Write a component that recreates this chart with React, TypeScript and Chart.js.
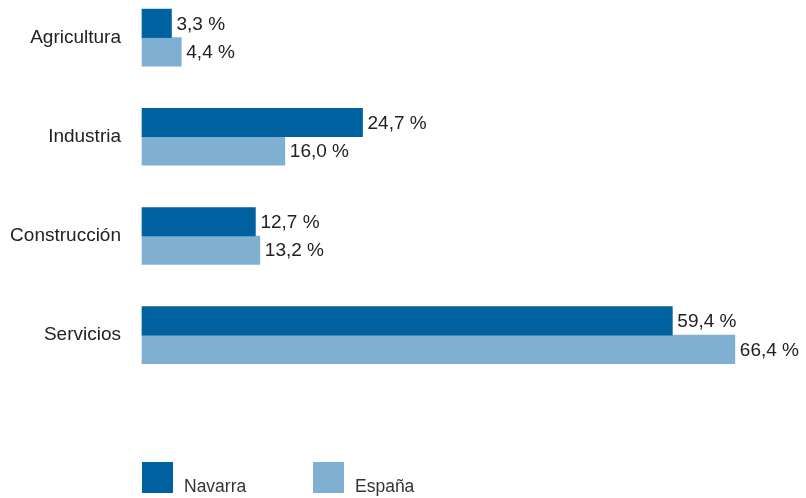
import React, { useEffect, useRef } from "react";
import { Chart, registerables } from "chart.js";

Chart.register(...registerables);

const categories = ["Agricultura", "Industria", "Construcción", "Servicios"];
const navarra = [3.3, 24.7, 12.7, 59.4];
const espana = [4.4, 16.0, 13.2, 66.4];
const seriesNames = ["Navarra", "España"];
const colors = ["#0061a0", "#7fb0d2"];

const FONT = "'Liberation Sans', Arial, Helvetica, sans-serif";

const fmt = (v: number) => v.toFixed(1).replace(".", ",") + " %";

const valueLabels = {
  id: "valueLabels",
  afterDatasetsDraw(chart: any) {
    const ctx = chart.ctx;
    ctx.save();
    ctx.font = `19px ${FONT}`;
    ctx.fillStyle = "#222";
    ctx.textAlign = "left";
    ctx.textBaseline = "middle";
    chart.data.datasets.forEach((ds: any, di: number) => {
      const meta = chart.getDatasetMeta(di);
      meta.data.forEach((bar: any, i: number) => {
        const v = ds.data[i].x;
        ctx.fillText(fmt(v), bar.x + 5, bar.y + 1);
      });
    });
    ctx.restore();
  },
};

const bottomLegend = {
  id: "bottomLegend",
  afterDraw(chart: any) {
    const ctx = chart.ctx;
    const { left, bottom } = chart.chartArea;
    const box = 31;
    const top = bottom + 12;
    ctx.save();
    ctx.font = `17.5px ${FONT}`;
    ctx.textAlign = "left";
    ctx.textBaseline = "alphabetic";
    chart.data.datasets.forEach((ds: any, di: number) => {
      const x = left + di * 171;
      ctx.fillStyle = ds.backgroundColor;
      ctx.fillRect(x, top, box, box);
      ctx.fillStyle = "#333";
      ctx.fillText(ds.label, x + box + 11, top + box - 1);
    });
    ctx.restore();
  },
};

export default function App() {
  const ref = useRef<HTMLCanvasElement>(null);
  useEffect(() => {
    if (!ref.current) return;
    const chart = new Chart(ref.current, {
      type: "bar",
      data: {
        datasets: [
          {
            label: seriesNames[0],
            data: navarra.map((v, i) => ({ x: v, y: i })),
            backgroundColor: colors[0],
            barThickness: 28.5,
            clip: false,
          },
          {
            label: seriesNames[1],
            data: espana.map((v, i) => ({ x: v, y: i })),
            backgroundColor: colors[1],
            barThickness: 28.5,
            clip: false,
          },
        ] as any,
      },
      options: {
        indexAxis: "y",
        animation: false,
        responsive: true,
        maintainAspectRatio: false,
        layout: { padding: { top: 0, right: 39, bottom: 48, left: 0 } },
        plugins: { legend: { display: false }, tooltip: { enabled: false } },
        scales: {
          x: { type: "linear", min: 0, max: 70, display: false },
          y: {
            type: "linear",
            reverse: true,
            offset: false,
            min: -0.0524,
            max: 4.158,
            grid: { display: false, drawTicks: false, offset: false },
            border: { display: false },
            afterBuildTicks: (scale: any) => {
              scale.ticks = categories.map((_, i) => ({ value: i }));
            },
            afterFit: (scale: any) => {
              scale.width = 142;
            },
            ticks: {
              padding: 21,
              autoSkip: false,
              color: "#222",
              font: { family: FONT, size: 19 },
              callback: (v: any) => categories[v as number] ?? "",
            },
          },
        },
      } as any,
      plugins: [valueLabels, bottomLegend],
    });
    return () => chart.destroy();
  }, []);
  return (
    <div style={{ position: "fixed", left: 0, top: 0, width: 806, height: 498, background: "#fff" }}>
      <canvas ref={ref} />
    </div>
  );
}
